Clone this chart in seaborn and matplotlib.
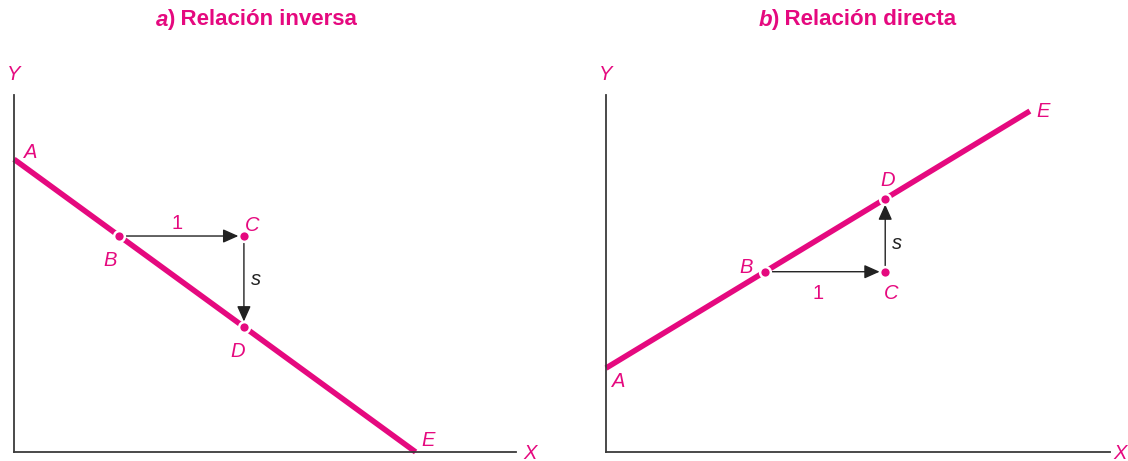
import numpy as np
import pandas as pd
import matplotlib
matplotlib.use("Agg")
import matplotlib.pyplot as plt
import seaborn as sns

sns.set_style("white")
plt.rcParams['font.family'] = ['Liberation Sans', 'DejaVu Sans']

pink = '#E5097F'
ink = '#222222'

# a) relacion inversa
inv_line_x = [0, 8.0]
inv_line_y = [8.2, 0]
inv_pts_x = [2.1, 4.58, 4.58]     # B, C, D
inv_pts_y = [6.05, 6.05, 3.5]

# b) relacion directa
dir_line_x = [0, 8.41]
dir_line_y = [2.35, 9.55]
dir_pts_x = [3.15, 5.54, 5.54]    # B, C, D
dir_pts_y = [5.05, 5.05, 7.09]

fig = plt.figure(figsize=(11.28, 4.61), dpi=100)
ax1 = fig.add_axes([14/1128, 9/461, 502/1128, 357/461])
ax2 = fig.add_axes([606/1128, 9/461, 504/1128, 357/461])


def panel(ax, lx, ly, px, py, offs):
    sns.lineplot(x=lx, y=ly, ax=ax, color=pink, lw=4, zorder=2)
    ax.lines[-1].set_clip_on(False)
    ax.lines[-1].set_solid_capstyle('butt')
    sns.scatterplot(x=px, y=py, ax=ax, color=pink, s=60, edgecolor='white',
                    linewidth=1.8, zorder=5, clip_on=False)
    B = (px[0], py[0]); C = (px[1], py[1]); D = (px[2], py[2])
    arr = dict(arrowstyle='-|>,head_length=0.85,head_width=0.38', color=ink,
               lw=1, shrinkA=4, shrinkB=4, mutation_scale=11)
    ax.annotate('', xy=C, xytext=B, arrowprops=arr, zorder=4)
    ax.annotate('', xy=D, xytext=C, arrowprops=arr, zorder=4)

    pos = {'A': (lx[0], ly[0]), 'E': (lx[1], ly[1]), 'B': B, 'C': C, 'D': D,
           '1': ((B[0] + C[0]) / 2, B[1]), 's': (C[0], (C[1] + D[1]) / 2),
           'Y': (0, 10), 'X': (10, 0)}
    for k, (dx, dy) in offs.items():
        col = ink if k == 's' else pink
        sty = 'normal' if k == '1' else 'italic'
        ax.annotate(k, xy=pos[k], xytext=(dx, dy), textcoords='offset pixels',
                    ha='center', va='center', fontsize=14.5, color=col,
                    style=sty, annotation_clip=False)

    ax.set_xlim(0, 10)
    ax.set_ylim(0, 10)
    ax.set_xticks([])
    ax.set_yticks([])
    for sp in ['top', 'right']:
        ax.spines[sp].set_visible(False)
    for sp in ['left', 'bottom']:
        ax.spines[sp].set_color('#3a3a3a')
        ax.spines[sp].set_linewidth(1.3)
    ax.patch.set_alpha(0)


panel(ax1, inv_line_x, inv_line_y, inv_pts_x, inv_pts_y,
      {'A': (17, 7), 'E': (12, 12), 'B': (-9, -24), 'C': (8, 11),
       'D': (-6, -24), '1': (-5, 13), 's': (12, 2), 'Y': (0, 20), 'X': (14, -1)})
panel(ax2, dir_line_x, dir_line_y, dir_pts_x, dir_pts_y,
      {'A': (13, -13), 'E': (13, 0), 'B': (-19, 4), 'C': (6, -22),
       'D': (2, 18), '1': (-7, -22), 's': (12, -8), 'Y': (0, 20), 'X': (10, -1)})

ty = 1 - 20/461
fs = 16
fig.text(168/1128, ty, 'a', ha='right', va='center', fontsize=fs,
         fontweight='bold', style='italic', color=pink)
fig.text(167/1128, ty, ') Relación inversa', ha='left', va='center',
         fontsize=fs, fontweight='bold', color=pink)
fig.text(772/1128, ty, 'b', ha='right', va='center', fontsize=fs,
         fontweight='bold', style='italic', color=pink)
fig.text(771/1128, ty, ') Relación directa', ha='left', va='center',
         fontsize=fs, fontweight='bold', color=pink)

fig.savefig('out.png', dpi=100)
